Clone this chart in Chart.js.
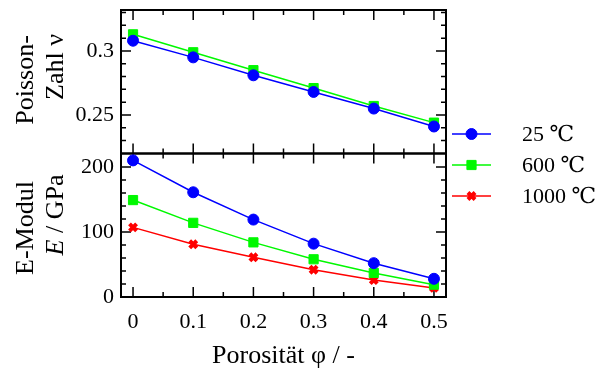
<!DOCTYPE html>
<html>
<head>
<meta charset="utf-8">
<script src="https://cdn.jsdelivr.net/npm/chart.js@4/dist/chart.umd.min.js"></script>
<style>
  html, body { margin: 0; padding: 0; background: #fff; }
  #wrap { width: 598px; height: 374px; }
</style>
</head>
<body>
<div id="wrap"><canvas id="chart" width="598" height="374"></canvas></div>
<script>
// porosity on the x axis
const porosity = [0, 0.1, 0.2, 0.3, 0.4, 0.5];

// Poisson ratio (top panel)
const poisson25 = [0.308, 0.295, 0.281, 0.268, 0.255, 0.241];
const poisson600 = [0.313, 0.299, 0.285, 0.271, 0.257, 0.244];

// Young's modulus in GPa (bottom panel)
const emod25 = [210, 161, 119, 82, 52, 28];
const emod600 = [149, 114, 84, 58, 37, 19];
const emod1000 = [107, 81, 61, 42, 26, 14];

const xTicks = [0, 0.1, 0.2, 0.3, 0.4, 0.5];
const poissonTicks = [0.25, 0.3];
const emodTicks = [0, 100, 200];
const legendLabels = ['25 \u2103', '600 \u2103', '1000 \u2103'];

const FONT = '"Liberation Serif", "DejaVu Serif", serif';
const BLUE = '#0000ff';
const GREEN = '#00f800';
const RED = '#ff0000';
const TITLE_SIZE = 26;

Chart.defaults.font.family = FONT;
Chart.defaults.color = '#000';

const pairs = (ys) => porosity.map((x, i) => ({ x: x, y: ys[i] }));

function series(label, ys, axis, color, style, radius, bw) {
  return {
    label: label,
    data: pairs(ys),
    yAxisID: axis,
    borderColor: color,
    backgroundColor: color,
    borderWidth: 1.5,
    pointStyle: style,
    pointRadius: radius,
    pointBorderWidth: bw,
    pointBackgroundColor: color,
    pointBorderColor: color,
    tension: 0
  };
}

// no extra room for labels at the axis ends
function noPad(s) {
  s.paddingTop = 0; s.paddingBottom = 0;
  s.paddingLeft = 0; s.paddingRight = 0;
}

// inward ticks + frame for both panels
const framePlugin = {
  id: 'frame',
  beforeDatasetsDraw(chart) {
    const ctx = chart.ctx;
    const xs = chart.scales.x;
    const panels = [
      { s: chart.scales.yP, lo: 22, hi: 33, val: i => i / 100, major: i => i % 5 === 0 },
      { s: chart.scales.yE, lo: 0, hi: 11, val: i => i * 20, major: i => i % 5 === 0 }
    ];
    ctx.save();
    ctx.strokeStyle = '#000';
    panels.forEach(p => {
      const top = p.s.top, bottom = p.s.bottom;
      const left = chart.chartArea.left, right = chart.chartArea.right;
      ctx.lineWidth = 1.5;
      ctx.beginPath();
      for (let i = 0; i <= 10; i++) {
        const px = xs.getPixelForValue(i * 0.05);
        const len = i % 2 === 0 ? 10 : 5;
        ctx.moveTo(px, top); ctx.lineTo(px, top + len);
        ctx.moveTo(px, bottom); ctx.lineTo(px, bottom - len);
      }
      for (let i = p.lo; i <= p.hi; i++) {
        const py = p.s.getPixelForValue(p.val(i));
        if (py < top + 1 || py > bottom - 1) continue;
        const len = p.major(i) ? 10 : 5;
        ctx.moveTo(left, py); ctx.lineTo(left + len, py);
        ctx.moveTo(right, py); ctx.lineTo(right - len, py);
      }
      ctx.stroke();
      ctx.lineWidth = 2;
      ctx.strokeRect(left, top, right - left, bottom - top);
    });
    ctx.restore();
  }
};

function drawRotated(ctx, parts, cy, baseX, size) {
  ctx.save();
  let w = 0;
  parts.forEach(p => {
    ctx.font = (p.italic ? 'italic ' : '') + size + 'px ' + FONT;
    p.w = ctx.measureText(p.t).width;
    w += p.w;
  });
  ctx.translate(baseX, cy);
  ctx.rotate(-Math.PI / 2);
  ctx.textBaseline = 'alphabetic';
  ctx.textAlign = 'left';
  ctx.fillStyle = '#000';
  let x = -w / 2;
  parts.forEach(p => {
    ctx.font = (p.italic ? 'italic ' : '') + size + 'px ' + FONT;
    ctx.fillText(p.t, x, 0);
    x += p.w;
  });
  ctx.restore();
}

const labelPlugin = {
  id: 'labels',
  afterDraw(chart) {
    const ctx = chart.ctx;
    drawRotated(ctx, [{ t: 'Poisson-' }], 80, 33, TITLE_SIZE);
    drawRotated(ctx, [{ t: 'Zahl \u03bd' }], 67, 63, TITLE_SIZE);
    drawRotated(ctx, [{ t: 'E-Modul' }], 228, 33, TITLE_SIZE);
    drawRotated(ctx, [{ t: 'E', italic: true }, { t: ' / GPa' }], 215, 63, TITLE_SIZE);

    // legend with line + marker
    const rows = [134, 165, 196];
    const legendSets = chart.data.datasets.filter(d => d.yAxisID === 'yE');
    legendSets.forEach((d, i) => {
      const y = rows[i];
      ctx.save();
      ctx.strokeStyle = d.borderColor;
      ctx.fillStyle = d.borderColor;
      ctx.lineWidth = 1.5;
      ctx.beginPath();
      ctx.moveTo(452, y);
      ctx.lineTo(491, y);
      ctx.stroke();
      ctx.lineWidth = d.pointBorderWidth;
      Chart.helpers.drawPoint(ctx, {
        pointStyle: d.pointStyle, radius: d.pointRadius,
        borderWidth: d.pointBorderWidth, rotation: 0
      }, 471.5, y);
      ctx.fillStyle = '#000';
      ctx.font = '22px ' + FONT;
      ctx.textBaseline = 'middle';
      ctx.textAlign = 'left';
      ctx.fillText(legendLabels[i], 522, y + 1);
      ctx.restore();
    });
  }
};

new Chart(document.getElementById('chart'), {
  type: 'line',
  data: {
    datasets: [
      series('25 \u2103', poisson25, 'yP', BLUE, 'circle', 5.5, 1),
      series('600 \u2103', poisson600, 'yP', GREEN, 'rect', 6.5, 1),
      series(legendLabels[0], emod25, 'yE', BLUE, 'circle', 5.5, 1),
      series(legendLabels[1], emod600, 'yE', GREEN, 'rect', 6.5, 1),
      series(legendLabels[2], emod1000, 'yE', RED, 'crossRot', 5, 4)
    ]
  },
  options: {
    responsive: false,
    animation: false,
    layout: { padding: { top: 10, right: 152, left: 0, bottom: 0 } },
    plugins: { legend: { display: false }, tooltip: { enabled: false } },
    scales: {
      x: {
        type: 'linear',
        min: -0.02,
        max: 0.52,
        grid: { display: false, drawTicks: false },
        border: { display: false },
        afterBuildTicks: s => { s.ticks = xTicks.map(v => ({ value: v })); },
        afterFit: s => { s.height = 77; noPad(s); },
        ticks: { font: { size: 22 }, padding: 12, callback: v => String(v) },
        title: {
          display: true,
          text: 'Porosit\u00e4t \u03c6 / -',
          font: { size: TITLE_SIZE },
          padding: { top: 0, bottom: 2 }
        }
      },
      yE: {
        type: 'linear',
        position: 'left',
        stack: 'panels',
        stackWeight: 1,
        min: 0,
        max: 220.6,
        grid: { display: false, drawTicks: false },
        border: { display: false },
        afterBuildTicks: s => { s.ticks = emodTicks.map(v => ({ value: v })); },
        afterFit: s => { s.width = 121; noPad(s); },
        ticks: { font: { size: 22 }, padding: 7, callback: v => String(v) }
      },
      yP: {
        type: 'linear',
        position: 'left',
        stack: 'panels',
        stackWeight: 1,
        min: 0.2199,
        max: 0.332,
        grid: { display: false, drawTicks: false },
        border: { display: false },
        afterBuildTicks: s => { s.ticks = poissonTicks.map(v => ({ value: v })); },
        afterFit: s => { s.width = 121; noPad(s); },
        ticks: { font: { size: 22 }, padding: 7, callback: v => String(v) }
      }
    }
  },
  plugins: [framePlugin, labelPlugin]
});
</script>
</body>
</html>
